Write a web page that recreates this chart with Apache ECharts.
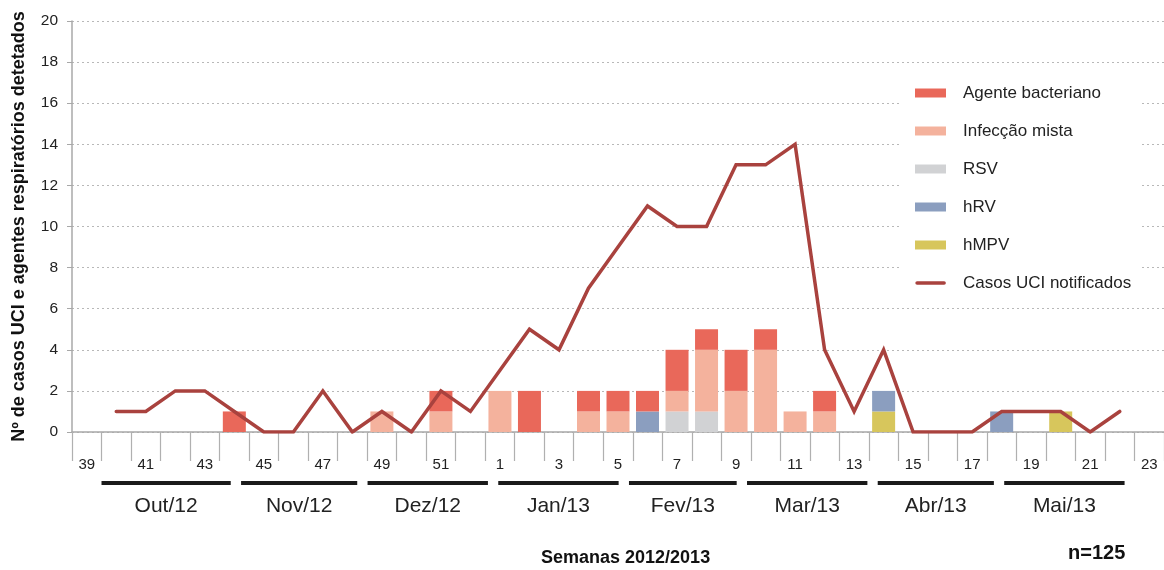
<!DOCTYPE html>
<html>
<head>
<meta charset="utf-8">
<script src="https://cdn.jsdelivr.net/npm/echarts@6/dist/echarts.min.js"></script>
<style>
html,body{margin:0;padding:0;background:#fff;}
#c{width:1164px;height:570px;}
</style>
</head>
<body>
<div id="c"></div>
<script>
// Weeks 39-52 of 2012 and 1-23 of 2013
var weeks = ['39','40','41','42','43','44','45','46','47','48','49','50','51','52',
  '1','2','3','4','5','6','7','8','9','10','11','12','13','14','15','16','17','18','19','20','21','22','23'];

var yTicks = [0, 2, 4, 6, 8, 10, 12, 14, 16, 18, 20];

//                      39 40 41 42 43 44 45 46 47 48 49 50 51 52 | 1 2 3 4 5 6 7 8 9 10 11 12 13 14 15 16 17 18 19 20 21 22 23
var bacteriano = [0,0,0,0,0,1,0,0,0,0,0,0,1,0, 0,2,0,1,1,1,2,1,2,1,0,1,0,0,0,0,0,0,0,0,0,0,0];
var mista      = [0,0,0,0,0,0,0,0,0,0,1,0,1,0, 2,0,0,1,1,0,1,3,2,4,1,1,0,0,0,0,0,0,0,0,0,0,0];
var rsv        = [0,0,0,0,0,0,0,0,0,0,0,0,0,0, 0,0,0,0,0,0,1,1,0,0,0,0,0,0,0,0,0,0,0,0,0,0,0];
var hrv        = [0,0,0,0,0,0,0,0,0,0,0,0,0,0, 0,0,0,0,0,1,0,0,0,0,0,0,0,1,0,0,0,1,0,0,0,0,0];
var hmpv       = [0,0,0,0,0,0,0,0,0,0,0,0,0,0, 0,0,0,0,0,0,0,0,0,0,0,0,0,1,0,0,0,0,0,1,0,0,0];
var casosUCI   = [null,1,1,2,2,1,0,0,2,0,1,0,2,1, 3,5,4,7,9,11,10,10,13,13,14,4,1,4,0,0,0,1,1,1,0,1,null];

// Months (label, number of days); Oct 1 2012 starts week 40
var monthLabels = ['Out/12','Nov/12','Dez/12','Jan/13','Fev/13','Mar/13','Abr/13','Mai/13'];
var monthDays   = [31, 30, 31, 31, 28, 31, 30, 31];

var FONT = "'Liberation Sans', Arial, Helvetica, sans-serif";

var monthData = [];
(function(){
  var cum = 0;
  for (var i = 0; i < monthLabels.length; i++) {
    var start = 0.5 + cum / 7;
    cum += monthDays[i];
    var end = 0.5 + cum / 7;
    monthData.push([i === 0 ? start : start + 0.3, end - 0.05, monthLabels[i]]);
  }
})();

var colors = {
  bact: '#e9685a', mista: '#f4b29d', rsv: '#d1d2d4', hrv: '#8b9ebf', hmpv: '#d7c65c', line: '#a9423e'
};

var LINE_ICON = 'path://M0,0h0.01v0.01h-0.01z M0,9h0.01v0.01h-0.01z M2,2.7 H29 A1.8,1.8 0 0 1 29,6.3 H2 A1.8,1.8 0 0 1 2,2.7 Z';

var chart = echarts.init(document.getElementById('c'), null, {renderer: 'canvas'});

function barSeries(name, data, color) {
  return {
    name: name, type: 'bar', stack: 'a', data: data, barWidth: 23,
    itemStyle: {color: color}, xAxisIndex: 0, yAxisIndex: 0, z: 2
  };
}

var option = {
  animation: false,
  textStyle: {fontFamily: FONT},
  grid: {left: 72, right: 0, top: 21, bottom: 138, containLabel: false},
  xAxis: [{
    type: 'category',
    data: weeks,
    boundaryGap: true,
    axisLine: {show: true, onZero: false, lineStyle: {color: '#a8a8a8', width: 1.5}},
    axisTick: {show: true, interval: 0, length: 29, lineStyle: {color: '#b0b0b0', width: 1.2}},
    axisLabel: {
      interval: function (idx, val) { return Number(val) % 2 === 1; },
      fontSize: 15, color: '#222', margin: 25, fontFamily: FONT
    },
    splitLine: {show: false}
  }, {
    type: 'value', min: -0.5, max: 36.5, show: false, gridIndex: 0
  }],
  yAxis: {
    type: 'value', min: 0, max: 20, interval: 2,
    axisLine: {show: true, onZero: false, lineStyle: {color: '#a8a8a8', width: 1.5}},
    axisTick: {show: true, length: 5, lineStyle: {color: '#a8a8a8'}},
    axisLabel: {fontSize: 15.5, color: '#222', margin: 14, fontFamily: FONT,
      formatter: function (v) { return yTicks.indexOf(v) >= 0 ? String(v) : ''; }},
    splitLine: {show: true, lineStyle: {color: '#b8b8b8', type: [2, 3], width: 1}},
    name: 'Nº de casos UCI e agentes respiratórios detetados',
    nameLocation: 'middle', nameRotate: 90, nameGap: 44,
    nameTextStyle: {fontSize: 18, fontWeight: 'bold', color: '#111', fontFamily: FONT}
  },
  legend: {
    orient: 'vertical', left: 900, top: 75,
    padding: [8, 10, 8, 15],
    backgroundColor: '#fff',
    itemWidth: 31, itemHeight: 9, itemGap: 18,
    textStyle: {fontSize: 17, color: '#222', lineHeight: 20, padding: [0, 0, 0, 12], fontFamily: FONT},
    data: [
      {name: 'Agente bacteriano', icon: 'rect'},
      {name: 'Infecção mista', icon: 'rect'},
      {name: 'RSV', icon: 'rect'},
      {name: 'hRV', icon: 'rect'},
      {name: 'hMPV', icon: 'rect'},
      {name: 'Casos UCI notificados', icon: LINE_ICON}
    ],
    z: 10
  },
  series: [
    barSeries('hMPV', hmpv, colors.hmpv),
    barSeries('hRV', hrv, colors.hrv),
    barSeries('RSV', rsv, colors.rsv),
    barSeries('Infecção mista', mista, colors.mista),
    barSeries('Agente bacteriano', bacteriano, colors.bact),
    {
      name: 'Casos UCI notificados', type: 'line', data: casosUCI,
      symbol: 'none', showSymbol: false, connectNulls: false,
      lineStyle: {color: colors.line, width: 3.5, cap: 'round', join: 'miter'},
      itemStyle: {color: colors.line},
      z: 5
    },
    {
      type: 'custom', xAxisIndex: 1, yAxisIndex: 0, silent: true, clip: false,
      data: monthData,
      renderItem: function (params, api) {
        var p1 = api.coord([api.value(0), 0]);
        var p2 = api.coord([api.value(1), 0]);
        var y = p1[1];
        return {
          type: 'group',
          children: [{
            type: 'line',
            shape: {x1: p1[0], y1: y + 51, x2: p2[0], y2: y + 51},
            style: {stroke: '#1a1a1a', lineWidth: 4}
          }, {
            type: 'text',
            style: {
              text: monthData[params.dataIndex][2],
              x: (p1[0] + p2[0]) / 2, y: y + 74,
              textAlign: 'center', textVerticalAlign: 'middle',
              fontSize: 21, fill: '#222', fontFamily: FONT
            }
          }]
        };
      }
    }
  ],
  graphic: [{
    type: 'text', left: 541, top: 549,
    style: {text: 'Semanas 2012/2013', fontSize: 18, fontWeight: 'bold', fill: '#111', fontFamily: FONT}
  }, {
    type: 'text', left: 1068, top: 543,
    style: {text: 'n=125', fontSize: 20, fontWeight: 'bold', fill: '#111', fontFamily: FONT}
  }]
};

chart.setOption(option);
</script>
</body>
</html>
